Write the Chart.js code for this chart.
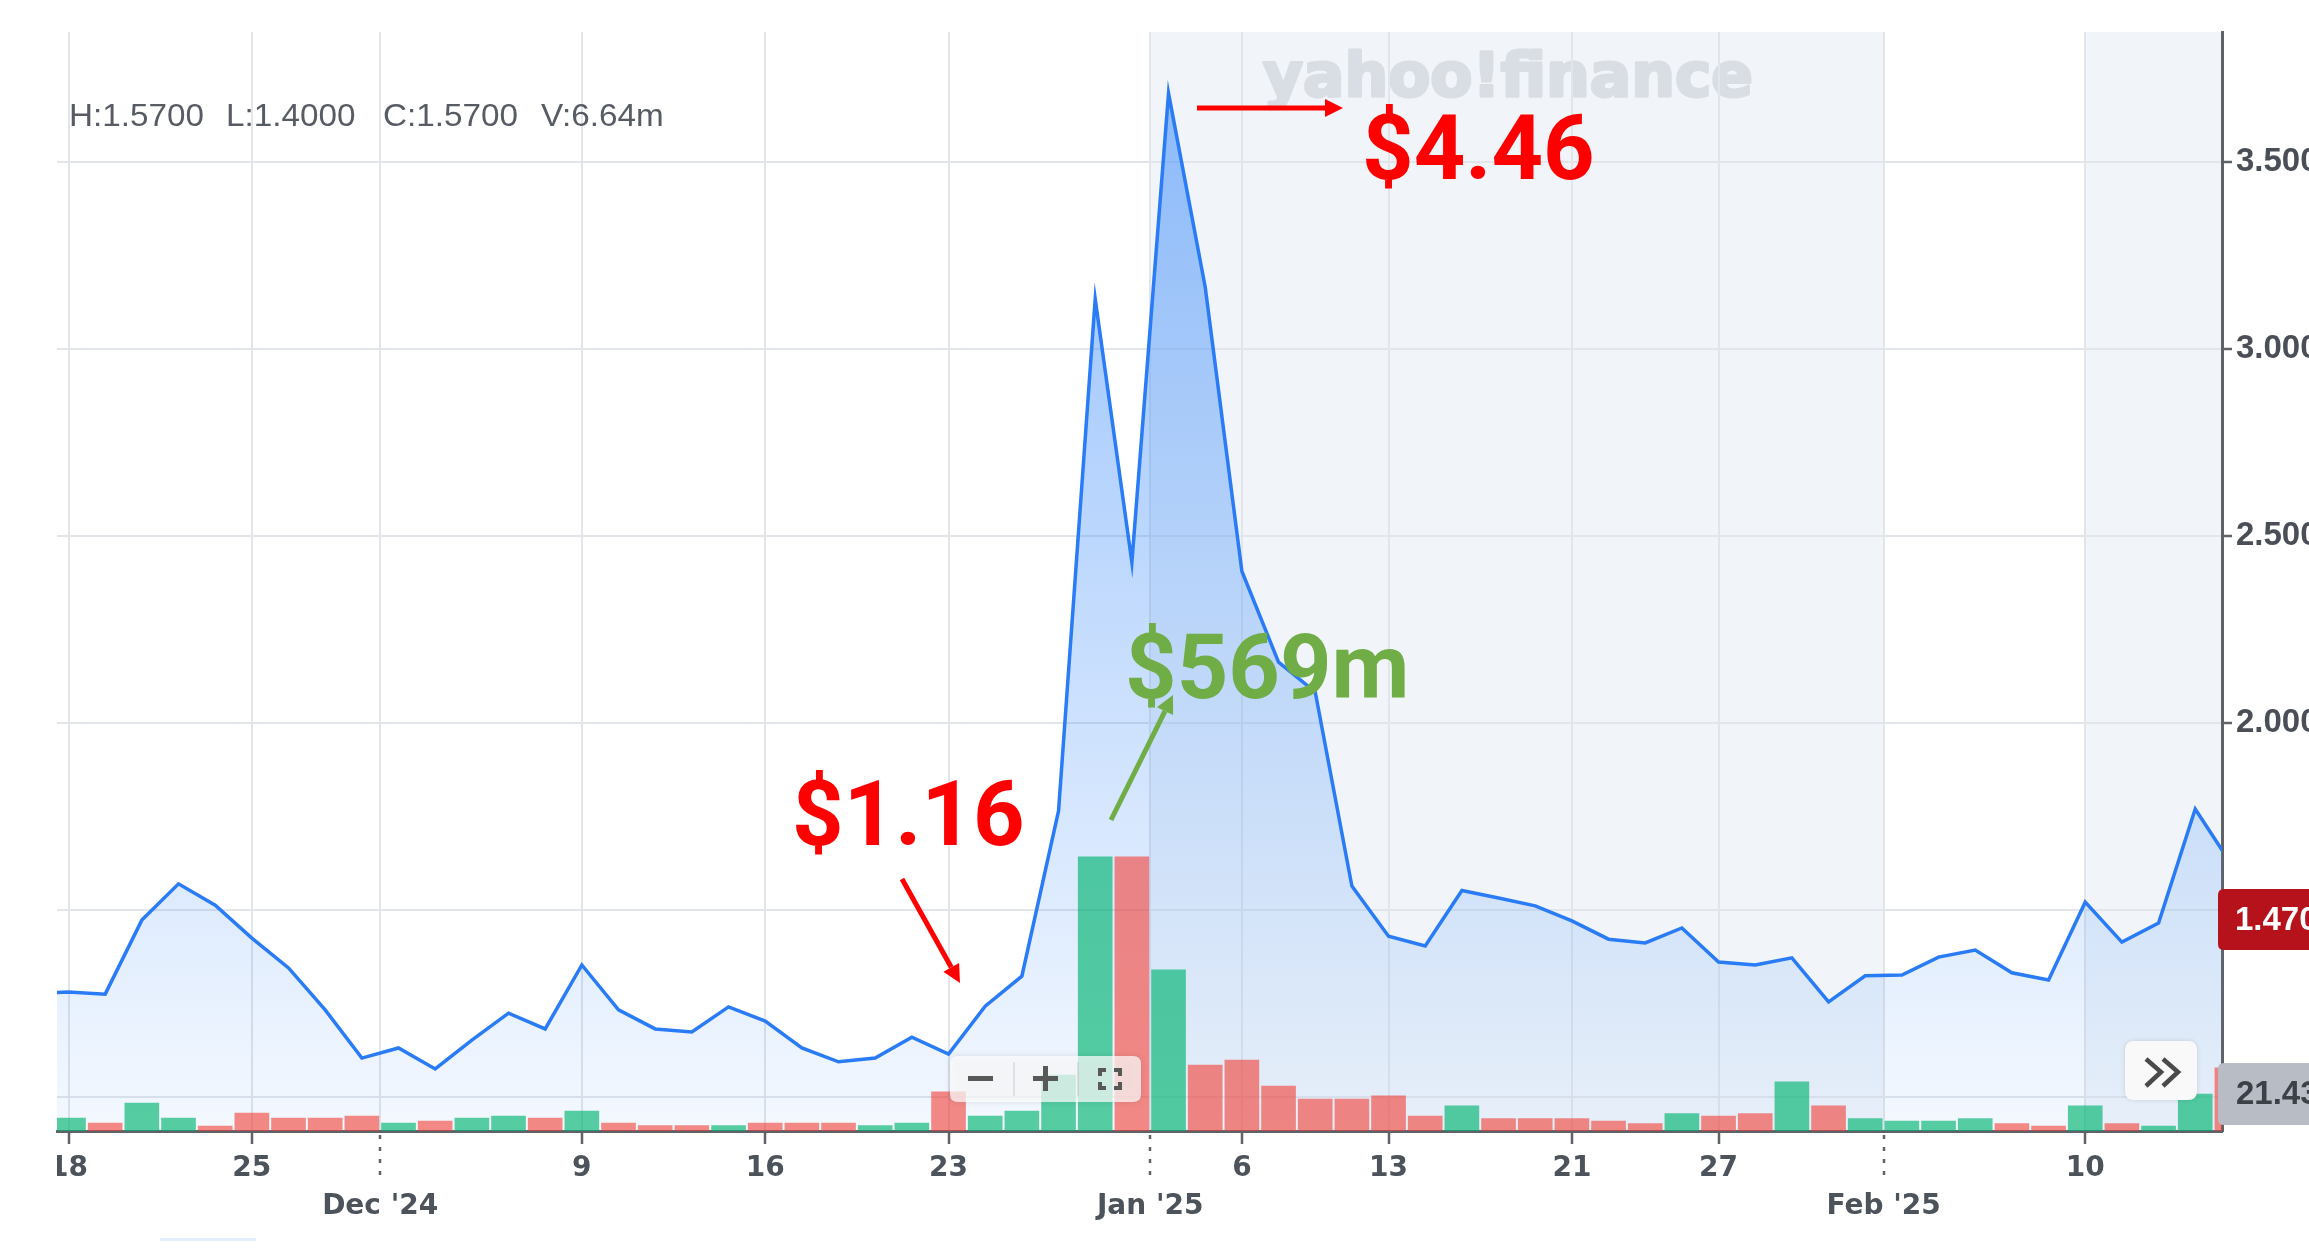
<!DOCTYPE html>
<html>
<head>
<meta charset="utf-8">
<script src="https://cdn.jsdelivr.net/npm/chart.js@4.4.1/dist/chart.umd.min.js"></script>
<style>
  html, body { margin: 0; padding: 0; background: #fff; }
  #wrap { width: 2309px; height: 1250px; }
</style>
</head>
<body>
<div id="wrap"><canvas id="chart" width="2309" height="1250"></canvas></div>
<script>
// trading days, Nov 15 2024 sits just off the left edge, Feb 14 2025 just off the right
const dates = [
  'Nov 15', 'Nov 18', 'Nov 19', 'Nov 20', 'Nov 21', 'Nov 22', 'Nov 25', 'Nov 26', 'Nov 27', 'Nov 29',
  'Dec 2', 'Dec 3', 'Dec 4', 'Dec 5', 'Dec 6', 'Dec 9', 'Dec 10', 'Dec 11', 'Dec 12', 'Dec 13',
  'Dec 16', 'Dec 17', 'Dec 18', 'Dec 19', 'Dec 20', 'Dec 23', 'Dec 24', 'Dec 26', 'Dec 27', 'Dec 30',
  'Dec 31', 'Jan 2', 'Jan 3', 'Jan 6', 'Jan 7', 'Jan 8', 'Jan 10', 'Jan 13', 'Jan 14', 'Jan 15',
  'Jan 16', 'Jan 17', 'Jan 21', 'Jan 22', 'Jan 23', 'Jan 24', 'Jan 27', 'Jan 28', 'Jan 29', 'Jan 30',
  'Jan 31', 'Feb 3', 'Feb 4', 'Feb 5', 'Feb 6', 'Feb 7', 'Feb 10', 'Feb 11', 'Feb 12', 'Feb 13',
  'Feb 14'
];
const closes = [
  1.275, 1.281, 1.275, 1.473, 1.570, 1.513, 1.425, 1.345, 1.233, 1.104,
  1.131, 1.075, 1.152, 1.224, 1.182, 1.353, 1.233, 1.182, 1.174, 1.241,
  1.203, 1.131, 1.094, 1.104, 1.160, 1.115, 1.243, 1.323, 1.765, 3.134,
  2.430, 3.684, 3.166, 2.406, 2.163, 2.083, 1.564, 1.430, 1.404, 1.552,
  1.532, 1.511, 1.471, 1.422, 1.412, 1.452, 1.361, 1.353, 1.372, 1.254,
  1.324, 1.326, 1.374, 1.393, 1.332, 1.313, 1.521, 1.414, 1.465, 1.770,
  1.620
];
// volume, millions of shares
const volumes = [
  5.0, 7.5, 4.6, 16.2, 7.5, 2.9, 10.4, 7.5, 7.5, 8.7,
  4.6, 5.8, 7.5, 8.7, 7.5, 11.6, 4.6, 3.2, 3.2, 3.2,
  4.6, 4.6, 4.6, 3.2, 4.6, 22.6, 8.7, 11.6, 32.4, 158.6,
  158.6, 93.2, 38.2, 41.0, 26.0, 18.5, 18.5, 20.3, 8.7, 14.5,
  7.2, 7.2, 7.2, 5.8, 4.3, 10.1, 8.7, 10.1, 28.4, 14.5,
  7.2, 5.8, 5.8, 7.2, 4.3, 2.9, 14.5, 4.3, 2.9, 21.4,
  36.5
];
const dayTickPos = [1, 6, 15, 20, 25, 33, 37, 42, 46, 56];
const dayTickLabels = ['18', '25', '9', '16', '23', '6', '13', '21', '27', '10'];
const monthTickPos = [9.5, 30.5, 50.5];
const monthTickLabels = ["Dec '24", "Jan '25", "Feb '25"];
const priceTicks = [1.0, 1.5, 2.0, 2.5, 3.0, 3.5];
const shadedRanges = [[30.5, 50.5], [56, 61]];
const header = ['H:1.5700', 'L:1.4000', 'C:1.5700', 'V:6.64m'];
const lastPriceLabel = '1.4700';
const lastVolumeLabel = '21.43M';

const GREEN = 'rgba(0,180,112,0.65)';
const RED = 'rgba(242,62,52,0.6)';
const volColors = closes.map((c, i) => (i === 0 || c >= closes[i - 1]) ? GREEN : RED);

function rr(ctx, x, y, w, h, r) {
  ctx.beginPath();
  ctx.moveTo(x + r, y);
  ctx.lineTo(x + w - r, y);
  ctx.quadraticCurveTo(x + w, y, x + w, y + r);
  ctx.lineTo(x + w, y + h - r);
  ctx.quadraticCurveTo(x + w, y + h, x + w - r, y + h);
  ctx.lineTo(x + r, y + h);
  ctx.quadraticCurveTo(x, y + h, x, y + h - r);
  ctx.lineTo(x, y + r);
  ctx.quadraticCurveTo(x, y, x + r, y);
  ctx.closePath();
}

function arrow(ctx, x0, y0, x1, y1, color) {
  const a = Math.atan2(y1 - y0, x1 - x0);
  const head = 18, half = 9;
  const bx = x1 - head * Math.cos(a), by = y1 - head * Math.sin(a);
  ctx.strokeStyle = color;
  ctx.lineWidth = 5;
  ctx.beginPath(); ctx.moveTo(x0, y0); ctx.lineTo(bx, by); ctx.stroke();
  ctx.fillStyle = color;
  ctx.beginPath();
  ctx.moveTo(x1, y1);
  ctx.lineTo(bx + half * Math.sin(a), by - half * Math.cos(a));
  ctx.lineTo(bx - half * Math.sin(a), by + half * Math.cos(a));
  ctx.closePath(); ctx.fill();
}

const decor = {
  id: 'decor',
  beforeDraw(chart) {
    const { ctx, chartArea: a, scales: { x } } = chart;
    ctx.save();
    ctx.fillStyle = '#ffffff';
    ctx.fillRect(0, 0, chart.width, chart.height);
    ctx.fillStyle = '#f1f5f9';
    shadedRanges.forEach(([s, e]) => {
      const x0 = Math.max(a.left, x.getPixelForValue(s));
      const x1 = Math.min(a.right, x.getPixelForValue(e));
      ctx.fillRect(x0, a.top, x1 - x0, a.bottom - a.top);
    });
    // watermark
    ctx.fillStyle = '#d9dde4';
    ctx.strokeStyle = '#d9dde4';
    ctx.lineWidth = 3;
    ctx.lineJoin = 'round';
    ctx.font = 'bold 60px "DejaVu Sans"';
    const w = ctx.measureText('yahoo!finance').width;
    ctx.translate(1263, 96);
    ctx.scale(490 / w, 1);
    ctx.fillText('yahoo!finance', 0, 0);
    ctx.strokeText('yahoo!finance', 0, 0);
    ctx.restore();
  },
  afterDraw(chart) {
    const { ctx, scales: { x } } = chart;
    ctx.save();
    // clip the first day label at the plot edge
    ctx.fillStyle = '#ffffff';
    ctx.fillRect(0, 1133, 57, 117);
    ctx.fillStyle = 'rgba(220,235,252,0.8)';
    ctx.fillRect(160, 1238, 96, 3);

    // dotted month separators under the axis
    ctx.strokeStyle = '#5f6368';
    ctx.lineWidth = 2.5;
    ctx.setLineDash([4, 8]);
    monthTickPos.forEach(m => {
      const px = Math.round(x.getPixelForValue(m));
      ctx.beginPath(); ctx.moveTo(px, 1135); ctx.lineTo(px, 1180); ctx.stroke();
    });
    ctx.setLineDash([]);

    // OHLC header
    ctx.fillStyle = '#575c64';
    ctx.font = '31px "Liberation Sans"';
    ctx.textBaseline = 'alphabetic';
    const sx = 135 / ctx.measureText(header[0]).width;
    [69, 226, 383, 541].forEach((hx, i) => {
      ctx.save();
      ctx.translate(hx, 126);
      ctx.scale(sx, 1);
      ctx.fillText(header[i], 0, 0);
      ctx.restore();
    });

    // last price / volume tags
    ctx.fillStyle = '#b5121b';
    rr(ctx, 2218, 889, 130, 61, 6); ctx.fill();
    ctx.fillStyle = '#b8bcc4';
    rr(ctx, 2218, 1063, 130, 62, 6); ctx.fill();
    ctx.font = 'bold 33px "Liberation Sans"';
    ctx.textBaseline = 'middle';
    ctx.fillStyle = '#ffffff';
    ctx.fillText(lastPriceLabel, 2235, 921);
    ctx.fillStyle = '#3d4147';
    ctx.fillText(lastVolumeLabel, 2236, 1095);

    // zoom control
    ctx.save();
    ctx.shadowColor = 'rgba(0,0,0,0.15)';
    ctx.shadowBlur = 6;
    ctx.fillStyle = 'rgba(255,255,255,0.72)';
    rr(ctx, 950, 1056, 191, 46, 8); ctx.fill();
    ctx.restore();
    ctx.strokeStyle = 'rgba(0,0,0,0.08)';
    ctx.lineWidth = 2;
    [1014, 1078].forEach(sxp => { ctx.beginPath(); ctx.moveTo(sxp, 1062); ctx.lineTo(sxp, 1096); ctx.stroke(); });
    ctx.fillStyle = '#585858';
    ctx.fillRect(968, 1076, 25, 5);
    ctx.fillRect(1033, 1076, 25, 5);
    ctx.fillRect(1043, 1066, 5, 25);
    ctx.strokeStyle = '#585858';
    ctx.lineWidth = 4;
    const fx = 1110, fy = 1079, hw = 10, hh = 9, arm = 6;
    [[-1, -1], [1, -1], [-1, 1], [1, 1]].forEach(([dx, dy]) => {
      const cx = fx + dx * hw, cy = fy + dy * hh;
      ctx.beginPath();
      ctx.moveTo(cx - dx * arm, cy);
      ctx.lineTo(cx, cy);
      ctx.lineTo(cx, cy - dy * arm);
      ctx.stroke();
    });

    // scroll-right button
    ctx.save();
    ctx.shadowColor = 'rgba(0,0,0,0.12)';
    ctx.shadowBlur = 5;
    ctx.fillStyle = '#f9f9f9';
    rr(ctx, 2125, 1041, 72, 59, 9); ctx.fill();
    ctx.restore();
    ctx.strokeStyle = '#4a4a4a';
    ctx.lineWidth = 4.5;
    [2146, 2163].forEach(cx => {
      ctx.beginPath();
      ctx.moveTo(cx, 1059); ctx.lineTo(cx + 15, 1072); ctx.lineTo(cx, 1086);
      ctx.stroke();
    });

    // annotations
    ctx.textBaseline = 'alphabetic';
    ctx.font = 'bold 90px Roboto';
    ctx.fillStyle = '#ff0000';
    ctx.fillText('$4.46', 1362, 179);
    ctx.fillText('$1.16', 792, 845);
    ctx.fillStyle = '#70ad47';
    ctx.fillText('$569m', 1125, 698);
    arrow(ctx, 1197, 108, 1343, 108, '#ff0000');
    arrow(ctx, 902, 879, 960, 983, '#ff0000');
    arrow(ctx, 1111, 820, 1173, 695, '#70ad47');
    ctx.restore();
  }
};

const isMonth = v => monthTickPos.some(m => Math.abs(m - v) < 1e-6);

new Chart(document.getElementById('chart').getContext('2d'), {
  data: {
    datasets: [{
      type: 'line',
      label: 'Close',
      data: closes.map((c, i) => ({ x: i, y: c })),
      yAxisID: 'y',
      borderColor: '#2a7bf6',
      borderWidth: 3.5,
      pointRadius: 0,
      tension: 0,
      fill: 'start',
      clip: 0,
      order: 2,
      backgroundColor: (context) => {
        const area = context.chart.chartArea;
        if (!area) return 'rgba(70,145,250,0.3)';
        const g = context.chart.ctx.createLinearGradient(0, area.top, 0, area.bottom);
        g.addColorStop(0, 'rgba(70,145,250,0.62)');
        g.addColorStop(1, 'rgba(70,145,250,0.06)');
        return g;
      }
    }, {
      type: 'bar',
      label: 'Volume',
      data: volumes.map((v, i) => ({ x: i, y: v })),
      yAxisID: 'yVol',
      backgroundColor: volColors,
      barThickness: 34,
      borderWidth: 0,
      clip: 0,
      order: 1
    }]
  },
  options: {
    responsive: false,
    animation: false,
    devicePixelRatio: 1,
    layout: { padding: { left: 57, top: 32, right: 0, bottom: 0 } },
    plugins: { legend: { display: false }, tooltip: { enabled: false } },
    scales: {
      x: {
        type: 'linear',
        offset: false,
        min: 0.686,
        max: 59.73,
        afterBuildTicks: (scale) => {
          scale.ticks = dayTickPos.concat(monthTickPos).sort((a, b) => a - b).map(v => ({ value: v }));
        },
        afterFit: (scale) => { scale.height = 119; },
        ticks: {
          autoSkip: false,
          maxRotation: 0,
          padding: 6,
          color: '#4d535b',
          font: { family: 'DejaVu Sans', weight: 'bold', size: 28, lineHeight: 1.36 },
          callback: (v) => {
            const d = dayTickPos.indexOf(v);
            if (d >= 0) return dayTickLabels[d];
            const m = monthTickPos.findIndex(p => Math.abs(p - v) < 1e-6);
            return m >= 0 ? ['', monthTickLabels[m]] : '';
          }
        },
        grid: {
          offset: false,
          color: '#e2e5e9',
          lineWidth: 2,
          tickLength: 13,
          tickWidth: 2.5,
          tickColor: (c) => (c.tick && isMonth(c.tick.value)) ? 'rgba(0,0,0,0)' : '#5f6368'
        },
        border: { color: '#5f6368', width: 3 }
      },
      y: {
        position: 'right',
        min: 0.909,
        max: 3.848,
        afterBuildTicks: (scale) => { scale.ticks = priceTicks.map(v => ({ value: v })); },
        afterFit: (scale) => { scale.width = 87; },
        ticks: {
          padding: 4,
          color: '#4a4f57',
          font: { family: 'Liberation Sans', weight: 'bold', size: 33 },
          callback: (v) => v.toFixed(4)
        },
        grid: { color: '#e2e5e9', lineWidth: 2, tickLength: 10, tickWidth: 2.5, tickColor: '#5f6368' },
        border: { color: '#5f6368', width: 3 }
      },
      yVol: { display: false, min: 0, max: 636 }
    }
  },
  plugins: [decor]
});
</script>
</body>
</html>
